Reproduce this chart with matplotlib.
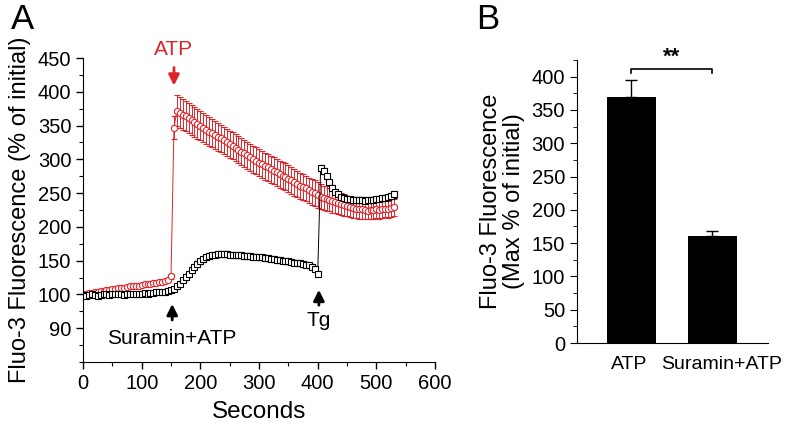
import matplotlib.pyplot as plt
import matplotlib.transforms as mtransforms
import numpy as np
from matplotlib.ticker import MultipleLocator

plt.rcParams['font.family'] = ['Liberation Sans', 'DejaVu Sans']

# time axis (s), one reading every 5 s
seconds = list(range(0, 535, 5))

# ATP (red circles)
atp_mean = [100, 101, 102, 102, 103, 104, 105, 105, 106, 107, 108, 108, 109, 110, 110,
            111, 112, 112, 113, 113, 114, 115, 115, 116, 117, 117, 118, 119, 120, 122, 127,
            347, 372, 369, 366, 364, 361, 358, 355, 352, 350, 347, 344, 341, 339, 336, 333,
            331, 328, 325, 322, 320, 317, 314, 311, 309, 306, 303, 300, 298, 295, 293, 290,
            288, 285, 283, 281, 278, 276, 274, 271, 269, 266, 264, 261, 259, 257, 254, 252,
            250, 247, 245, 243, 242, 240, 238, 237, 235, 234, 232, 231, 229, 228, 227, 226,
            226, 225, 224, 225, 225, 226, 225, 226, 227, 226, 228, 229]
atp_err = [2, 2, 2, 2, 2, 2, 2, 2, 2, 2, 2, 2, 2, 2, 2,
           2, 2, 2, 2, 2, 2, 2, 2, 2, 3, 3, 3, 3, 3, 3, 4,
           17, 23, 23, 23, 22, 22, 22, 22, 22, 21, 21, 21, 21, 21, 21, 21,
           20, 20, 20, 20, 20, 20, 20, 20, 20, 20, 20, 20, 20, 20, 20, 20,
           20, 20, 20, 20, 20, 20, 20, 20, 20, 20, 19, 19, 19, 19, 19, 19,
           19, 19, 18, 18, 18, 17, 17, 17, 16, 16, 16, 15, 15, 15, 14, 14,
           14, 14, 13, 13, 13, 13, 13, 13, 13, 13, 13, 13]

# Suramin + ATP (black squares)
sur_mean = [99, 98, 99, 100, 99, 98, 99, 100, 100, 99, 100, 101, 100, 100, 99,
            100, 101, 100, 101, 100, 101, 102, 101, 102, 102, 103, 103, 104, 104, 105, 106,
            108, 112, 116, 121, 126, 131, 136, 141, 145, 149, 152, 155, 157, 158, 159, 160,
            160, 160, 160, 159, 159, 158, 158, 158, 157, 157, 157, 156, 156, 155, 155, 154,
            154, 153, 152, 151, 151, 150, 149, 149, 148, 147, 147, 146, 145, 144, 143, 141,
            138, 131, 287, 283, 275, 266, 258, 252, 248, 245, 243, 242, 241, 240, 240, 240,
            240, 239, 240, 240, 240, 241, 242, 243, 243, 244, 246, 248]
sur_err = [2, 2, 2, 2, 2, 2, 2, 2, 2, 2, 2, 2, 2, 2, 2,
           2, 2, 2, 2, 2, 2, 2, 2, 2, 2, 2, 2, 2, 2, 2, 3,
           3, 3, 3, 4, 4, 4, 4, 4, 4, 4, 4, 4, 4, 4, 4, 4,
           4, 4, 4, 4, 4, 4, 4, 4, 4, 4, 4, 4, 4, 4, 4, 4,
           4, 4, 4, 4, 4, 4, 4, 4, 4, 4, 4, 4, 4, 4, 4, 4,
           4, 4, 4, 4, 4, 4, 4, 4, 4, 4, 4, 4, 4, 4, 4, 4,
           4, 4, 4, 4, 4, 4, 4, 4, 4, 4, 4, 5]

# panel B
groups = ["ATP", "Suramin+ATP"]
max_mean = [370, 161]
max_err = [25, 7]

yticks_a = [50, 100, 150, 200, 250, 300, 350, 400, 450]
ytick_labels_a = ["90", "100", "150", "200", "250", "300", "350", "400", "450"]

red = "#e0252a"
tick_fs = 14.5
label_fs = 17

fig = plt.figure(figsize=(7.93, 4.25), dpi=100)

# ---------- A ----------
ax = fig.add_axes([0.1047, 0.1482, 0.4439, 0.7153])

ax.errorbar(seconds, atp_mean, yerr=atp_err, fmt='-o', color=red, ecolor=red,
            elinewidth=0.7, capsize=2.5, capthick=0.7, lw=0.7, ms=4.5,
            mfc='white', mec=red, mew=0.8, zorder=2)
ax.errorbar(seconds, sur_mean, yerr=sur_err, fmt='-s', color='black', ecolor='black',
            elinewidth=0.6, capsize=2.5, capthick=0.6, lw=0.7, ms=4.5,
            mfc='white', mec='black', mew=0.8, zorder=3)

ax.set_xlim(0, 600)
ax.set_ylim(0, 450)
ax.set_yticks(yticks_a)
ax.set_yticklabels(ytick_labels_a)
ax.xaxis.set_major_locator(MultipleLocator(100))
ax.xaxis.set_minor_locator(MultipleLocator(50))
ax.yaxis.set_minor_locator(MultipleLocator(25))
ax.spines['top'].set_visible(False)
ax.spines['right'].set_visible(False)
ax.tick_params(which='major', direction='out', length=5, width=1, labelsize=tick_fs)
ax.tick_params(which='minor', direction='out', length=3, width=0.8)
ax.set_xlabel("Seconds", fontsize=17.5, labelpad=6)
ax.set_ylabel("Fluo-3 Fluorescence (% of initial)", fontsize=label_fs, labelpad=5)

ax.annotate("", xy=(155, 405), xytext=(155, 440),
            arrowprops=dict(arrowstyle='-|>', color=red, lw=2, mutation_scale=16),
            annotation_clip=False)
ax.text(155, 462, "ATP", color=red, ha='center', va='center', fontsize=15)

ax.annotate("", xy=(152, 90), xytext=(152, 58),
            arrowprops=dict(arrowstyle='-|>', color='black', lw=2, mutation_scale=16))
ax.text(152, 35, "Suramin+ATP", ha='center', va='center', fontsize=15)

ax.annotate("", xy=(402, 111), xytext=(402, 80),
            arrowprops=dict(arrowstyle='-|>', color='black', lw=2, mutation_scale=16))
ax.text(402, 62, "Tg", ha='center', va='center', fontsize=15)

fig.text(0.028, 0.955, "A", fontsize=25, ha='center', va='center')

# ---------- B ----------
bx = fig.add_axes([0.7276, 0.1929, 0.2409, 0.6659])
x = np.arange(len(groups))
bx.bar(x, max_mean, width=0.605, color='black')
bx.errorbar(x, max_mean, yerr=[[0, 0], max_err], fmt='none', ecolor='black',
            elinewidth=1, capsize=4, capthick=1)
bx.set_xlim(-0.667, 1.691)
bx.set_ylim(0, 425)
bx.set_xticks(x)
bx.set_xticklabels(groups)
bx.yaxis.set_major_locator(MultipleLocator(50))
bx.yaxis.set_minor_locator(MultipleLocator(25))
bx.spines['top'].set_visible(False)
bx.spines['right'].set_visible(False)
bx.tick_params(axis='x', length=0, labelsize=14, pad=9)
bx.tick_params(axis='y', which='major', direction='out', length=5, labelsize=tick_fs)
bx.tick_params(axis='y', which='minor', direction='out', length=3)
bx.set_ylabel("Fluo-3 Fluorescence\n(Max % of initial)", fontsize=label_fs, labelpad=5,
              linespacing=1.05)

# nudge labels apart a little, like the original
shifts = [-2, 10]
for lbl, dx in zip(bx.get_xticklabels(), shifts):
    lbl.set_transform(lbl.get_transform() +
                      mtransforms.ScaledTranslation(dx / 100, 0, fig.dpi_scale_trans))

bx.plot([0, 0, 1, 1], [406, 411, 411, 406], color='black', lw=1.2, clip_on=False)
bx.text(0.5, 429, "**", ha='center', va='center', fontsize=16, fontweight='bold')

fig.text(0.615, 0.955, "B", fontsize=25, ha='center', va='center')

fig.savefig("out.png", dpi=100)
